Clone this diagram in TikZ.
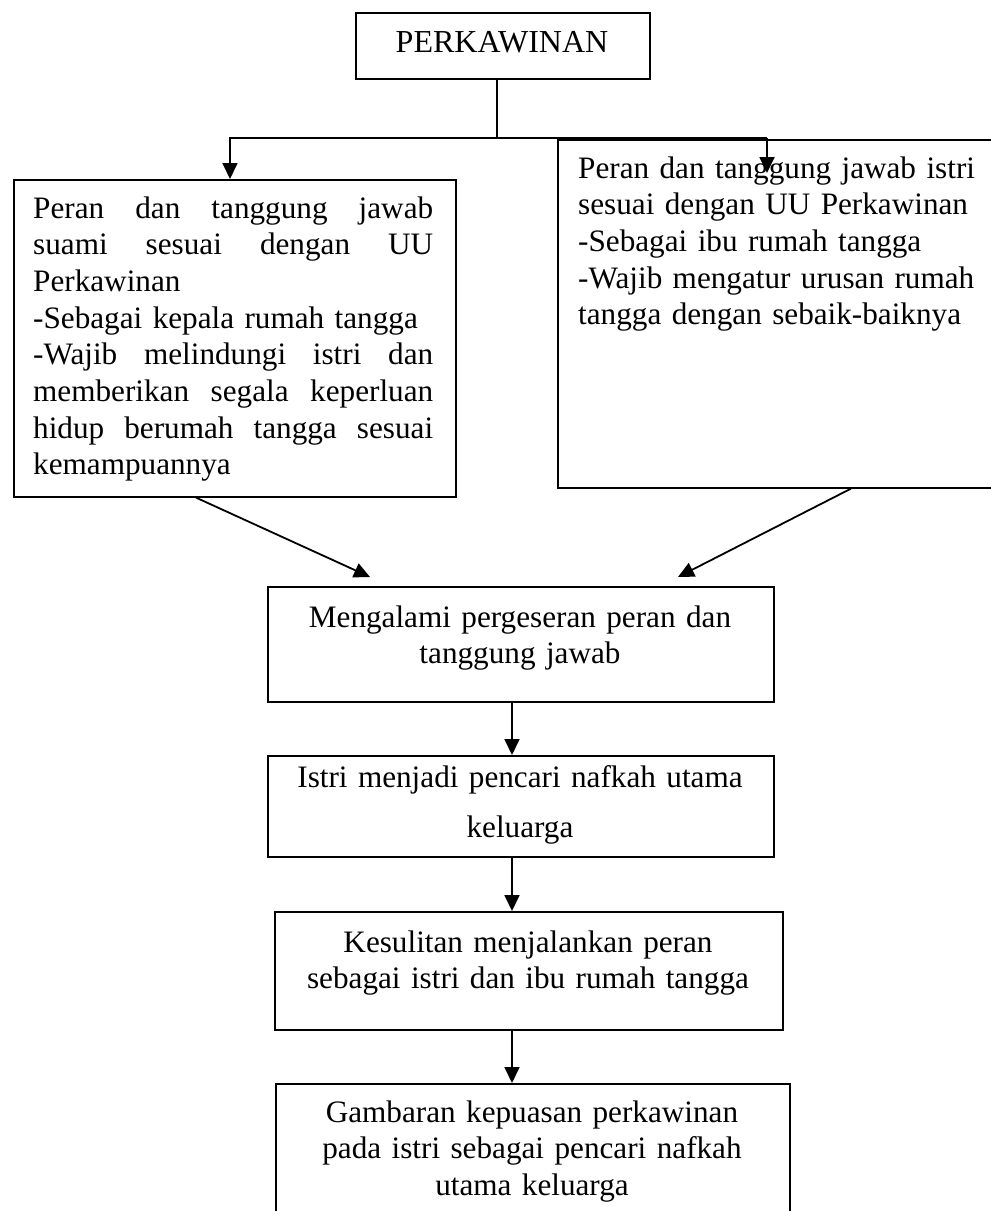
\documentclass[tikz,border=0pt]{standalone}
\usepackage{fontspec}
\setmainfont{Liberation Serif}
\usetikzlibrary{arrows.meta,calc}
\newcommand\jline[1]{\leavevmode\hbox to 400pt{#1}}
\begin{document}
\begin{tikzpicture}[x=1pt,y=-1pt,
  box/.style={draw, line width=1.6pt, inner sep=0pt, anchor=north west},
  txt/.style={inner sep=0pt, font=\fontsize{31.2}{36.7}\selectfont},
  conn/.style={line width=1.8pt},
  arr/.style={line width=1.8pt, -{Triangle[length=16pt,width=15pt]}}]
\useasboundingbox (0,0) rectangle (991,1211);
% boxes
\node[box, minimum width=294pt, minimum height=66pt] (top) at (355,12) {};
\node[box, minimum width=442pt, minimum height=317pt] (lb) at (13,179) {};
\node[box, minimum width=460pt, minimum height=348pt] (rb) at (557,139) {};
\node[box, minimum width=506pt, minimum height=115pt] (mg) at (267,586) {};
\node[box, minimum width=506pt, minimum height=101pt] (is) at (267,755) {};
\node[box, minimum width=508pt, minimum height=118pt] (ks) at (274,911) {};
\node[box, minimum width=514pt, minimum height=140pt] (gb) at (275,1083) {};
% texts
\node[txt, anchor=base, font=\fontsize{32}{36.7}\selectfont] (ttop) at (502,52) {PERKAWINAN};
\node[txt, anchor=base west, text width=400pt, align=left] (tlb) at (33,218)
 {\jline{Peran\hfill dan\hfill tanggung\hfill jawab}\\
  \jline{suami\hfill sesuai\hfill dengan\hfill UU}\\
  Perkawinan\\
  -Sebagai kepala rumah tangga\\
  \jline{-Wajib\hfill melindungi\hfill istri\hfill dan}\\
  \jline{memberikan\hfill segala\hfill keperluan}\\
  \jline{hidup\hfill berumah\hfill tangga\hfill sesuai}\\
  kemampuannya};
\node[txt, anchor=base west, text width=410pt, align=left] (trb) at (578,178)
 {Peran dan tanggung jawab istri\\
  sesuai dengan UU Perkawinan\\
  -Sebagai ibu rumah tangga\\
  -Wajib mengatur urusan rumah\\
  tangga dengan sebaik-baiknya};
\node[txt, anchor=base, text width=500pt, align=center] (tmg) at (520,627)
 {Mengalami pergeseran peran dan\\tanggung jawab};
\node[txt, anchor=base, text width=500pt, align=center, font=\fontsize{31.2}{50}\selectfont] (tis) at (520,787)
 {Istri menjadi pencari nafkah utama\\keluarga};
\node[txt, anchor=base, text width=500pt, align=center] (tks) at (528,952)
 {Kesulitan menjalankan peran\\sebagai istri dan ibu rumah tangga};
\node[txt, anchor=base, text width=500pt, align=center] (tgb) at (532,1122)
 {Gambaran kepuasan perkawinan\\pada istri sebagai pencari nafkah\\utama keluarga};
% connectors
\coordinate (j) at (497,138);
\coordinate (jl) at (230,138);
\coordinate (jr) at (767,138);
\coordinate (jre) at (767,173);
\coordinate (ax) at (512,0);
\draw[conn] (j |- top.south) -- (j);
\draw[arr] (j) -- (jl) -- (jl |- lb.north);
\draw[conn] (j) -- (jr);
\draw[arr] (jr) -- (jre);
\draw[arr] ($(lb.south west)+(183,0)$) -- ($(mg.north west)+(103,-9)$);
\draw[arr] ($(rb.south west)+(294,0)$) -- ($(mg.north west)+(411,-9)$);
\draw[arr] (ax |- mg.south) -- (ax |- is.north);
\draw[arr] (ax |- is.south) -- (ax |- ks.north);
\draw[arr] (ax |- ks.south) -- (ax |- gb.north);
\end{tikzpicture}
\end{document}
